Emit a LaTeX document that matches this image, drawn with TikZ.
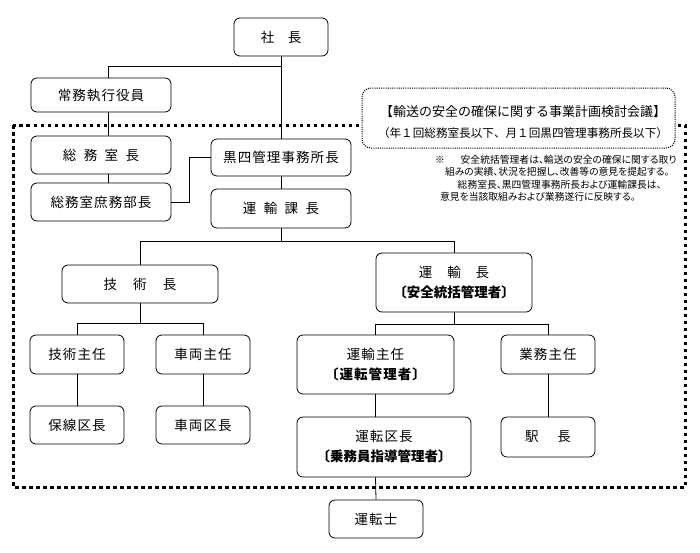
\documentclass[tikz,border=0pt]{standalone}
\usepackage{fontspec}
\setmainfont{Noto Sans CJK JP}
\newfontfamily\bxf[LetterSpace=8]{Noto Sans CJK JP}
\newfontfamily\notef[RawFeature=+palt]{Noto Sans CJK JP}
\begin{document}
\begin{tikzpicture}[x=1pt,y=-1pt,
  box/.style={draw=black, line width=0.8pt, rounded corners=6pt, fill=white, inner sep=0pt,
    font=\bxf\fontsize{13.5}{20}\selectfont, align=center},
  wh/.style 2 args={minimum width=#1pt, minimum height=#2pt},
  conn/.style={draw=black, line width=0.8pt},
  bigdot/.style={draw=black, line width=3pt, dash pattern=on 3.5pt off 3.5pt},
  meetbox/.style={draw=black, line width=1pt, dash pattern=on 1.1pt off 1.1pt, rounded corners=9pt, fill=white}]
\useasboundingbox (0,0) rectangle (700,552);
% large dotted frame
\draw[bigdot] (13,125) rectangle (685,487);
% meeting box
\node[meetbox, minimum width=313pt, minimum height=60pt, inner sep=0pt] (meet) at (518.5,118) {};
\node[font=\fontsize{13}{15}\selectfont, inner sep=0pt] (meet1) at (523,112) {【輸送の安全の確保に関する事業計画検討会議】};
\node[font=\fontsize{11.6}{14}\selectfont, inner sep=0pt] (meet2) at (523,133) {（年１回総務室長以下、月１回黒四管理事務所長以下）};
% note
\node[font=\notef\fontsize{9.8}{12.5}\selectfont, align=left, anchor=north west, inner sep=0pt] (note) at (435,155)
 {※\hspace{1.6em}安全統括管理者は、輸送の安全の確保に関する取り\\
  \hspace{1em}組みの実績、状況を把握し、改善等の意見を提起する。\\
  \hspace{2.3em}総務室長、黒四管理事務所長および運輸課長は、\\
  \hspace{0.5em}意見を当該取組みおよび業務遂行に反映する。};
% boxes
\node[box, wh={94}{38}] (shacho) at (281,37) {社\hspace{1em}長};
\node[box, wh={140}{34}] (jomu) at (101,95) {常務執行役員};
\node[box, wh={140}{38}] (somu) at (101,155) {総\hspace{0.55em}務\hspace{0.55em}室\hspace{0.55em}長};
\node[box, wh={140}{38}] (shomu) at (101,202) {総務室庶務部長};
\node[box, wh={140}{37}] (kuroyon) at (281,157.5) {黒四管理事務所長};
\node[box, wh={140}{39}] (unyuka) at (281,208.5) {運\hspace{0.55em}輸\hspace{0.55em}課\hspace{0.55em}長};
\node[box, wh={156}{38}] (gijutsu) at (140,284) {技\hspace{1.2em}術\hspace{1.2em}長};
\node[box, wh={156}{59}] (unyucho) at (454,282.5) {運\hspace{1.1em}輸\hspace{1.1em}長\\{\fontspec{Noto Sans CJK JP}\bfseries〔安全統括管理者〕}};
\node[box, wh={94}{39}] (gishu) at (77,354.5) {技術主任};
\node[box, wh={94}{39}] (shashu) at (203,354.5) {車両主任};
\node[box, wh={94}{38}] (hosen) at (77,425) {保線区長};
\node[box, wh={94}{38}] (shaku) at (203,425) {車両区長};
\node[box, wh={157}{59}] (unshu) at (375.5,364.5) {運輸主任\\{\bfseries〔運転管理者〕}};
\node[box, wh={94}{39}] (gyoshu) at (548,354.5) {業務主任};
\node[box, wh={174}{60}] (untenku) at (384,447) {運転区長\\{\fontspec{Noto Sans CJK JP}\bfseries〔乗務員指導管理者〕}};
\node[box, wh={94}{40}] (eki) at (548,437) {駅\hspace{1.4em}長};
\node[box, wh={94}{38}] (untenshi) at (376,519) {運転士};
% connectors
\coordinate (jx) at (108,66);
\coordinate (b1) at (281,241);
\coordinate (b2) at (140,323);
\coordinate (b3) at (454,324);
\draw[conn] (shacho.south) -- (kuroyon.north);
\draw[conn] (jx -| shacho.south) -- (jx) -- (jx |- jomu.north);
\draw[conn] (jx |- jomu.south) -- (jx |- somu.north);
\draw[conn] (jx |- somu.south) -- (jx |- shomu.north);
\draw[conn] (shomu.east) -- ++(18,0) |- (kuroyon.west);
\draw[conn] (kuroyon.south) -- (unyuka.north);
\draw[conn] (unyuka.south) -- (b1);
\draw[conn] (gijutsu.north) -- (gijutsu.north |- b1) -- (unyucho.north |- b1) -- (unyucho.north);
\draw[conn] (gijutsu.south) -- (b2);
\draw[conn] (gishu.north) -- (gishu.north |- b2) -- (shashu.north |- b2) -- (shashu.north);
\draw[conn] (unyucho.south) -- (b3);
\draw[conn] (unshu.north) -- (unshu.north |- b3) -- (gyoshu.north |- b3) -- (gyoshu.north);
\draw[conn] (gishu.south) -- (hosen.north);
\draw[conn] (shashu.south) -- (shaku.north);
\draw[conn] (gyoshu.south) -- (eki.north);
\draw[conn] (unshu.south) -- (unshu.south |- untenku.north);
\draw[conn] (unshu.south |- untenku.south) -- (untenshi.north);
\end{tikzpicture}
\end{document}
